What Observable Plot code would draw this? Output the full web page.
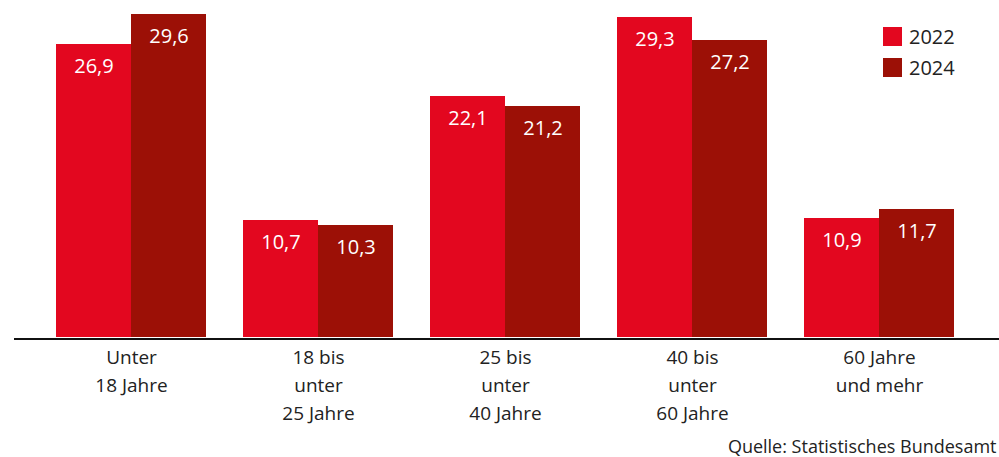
<!DOCTYPE html>
<html>
<head>
<meta charset="utf-8">
<script src="https://cdn.jsdelivr.net/npm/d3@7"></script>
<script src="https://cdn.jsdelivr.net/npm/@observablehq/plot@0.6"></script>
<style>
  html, body { margin: 0; padding: 0; background: #fff; }
  #wrap { position: relative; width: 999px; height: 457px; font-family: "Open Sans", sans-serif; }
  #legend { position: absolute; left: 883px; top: 26px; font-size: 20px; color: #222; }
  #legend .row { display: flex; align-items: center; height: 20px; margin-bottom: 11px; }
  #legend .sw { width: 19px; height: 19px; margin-right: 7px; }
</style>
</head>
<body>
<div id="wrap"><div id="legend"></div></div>
<script>
const categories = ["Unter\n18 Jahre", "18 bis\nunter\n25 Jahre", "25 bis\nunter\n40 Jahre", "40 bis\nunter\n60 Jahre", "60 Jahre\nund mehr"];
const years = ["2022", "2024"];
const values2022 = [26.9, 10.7, 22.1, 29.3, 10.9];
const values2024 = [29.6, 10.3, 21.2, 27.2, 11.7];
const colors = ["#e3071f", "#9c1006"];
const caption = "Quelle: Statistisches Bundesamt";

const d2022 = categories.map((c, i) => ({cat: c, year: years[0], value: values2022[i]}));
const d2024 = categories.map((c, i) => ({cat: c, year: years[1], value: values2024[i]}));

const xRange = [35, 974];
const band = d3.scaleBand(categories, xRange).paddingInner(0.2).paddingOuter(0.1);
const half = band.bandwidth() / 2;
const fmt = d => d.value.toFixed(1).replace(".", ",");

const plot = Plot.plot({
  width: 999,
  height: 457,
  marginTop: 0,
  marginBottom: 120,
  marginLeft: 14,
  marginRight: 0,
  style: {fontFamily: "Open Sans, sans-serif", background: "#fff"},
  x: {domain: categories, range: xRange, paddingInner: 0.2, paddingOuter: 0.1, label: null},
  y: {domain: [0, 30.9], axis: null},
  marks: [
    Plot.barY(d2022, {x: "cat", y: "value", fill: colors[0], insetRight: half, shapeRendering: "crispEdges"}),
    Plot.barY(d2024, {x: "cat", y: "value", fill: colors[1], insetLeft: half, shapeRendering: "crispEdges"}),
    Plot.text(d2022, {x: "cat", y: "value", text: fmt, dx: -half / 2, dy: 22, fill: "white", fontSize: 20}),
    Plot.text(d2024, {x: "cat", y: "value", text: fmt, dx: half / 2, dy: 22, fill: "white", fontSize: 20}),
    Plot.ruleY([0], {stroke: "#111", strokeWidth: 2, dy: 1.5}),
    Plot.axisX({tickSize: 0, tickPadding: 6, fontSize: 19, lineHeight: 1.49, fill: "#222", label: null}),
    Plot.text([caption], {frameAnchor: "bottom-right", lineAnchor: "bottom", textAnchor: "end", dx: -3, dy: 115, fontSize: 18, fill: "#222"})
  ]
});
document.getElementById("wrap").prepend(plot);

const legend = document.getElementById("legend");
years.forEach((y, i) => {
  const row = document.createElement("div");
  row.className = "row";
  row.innerHTML = `<div class="sw" style="background:${colors[i]}"></div><span>${y}</span>`;
  legend.appendChild(row);
});
</script>
</body>
</html>
